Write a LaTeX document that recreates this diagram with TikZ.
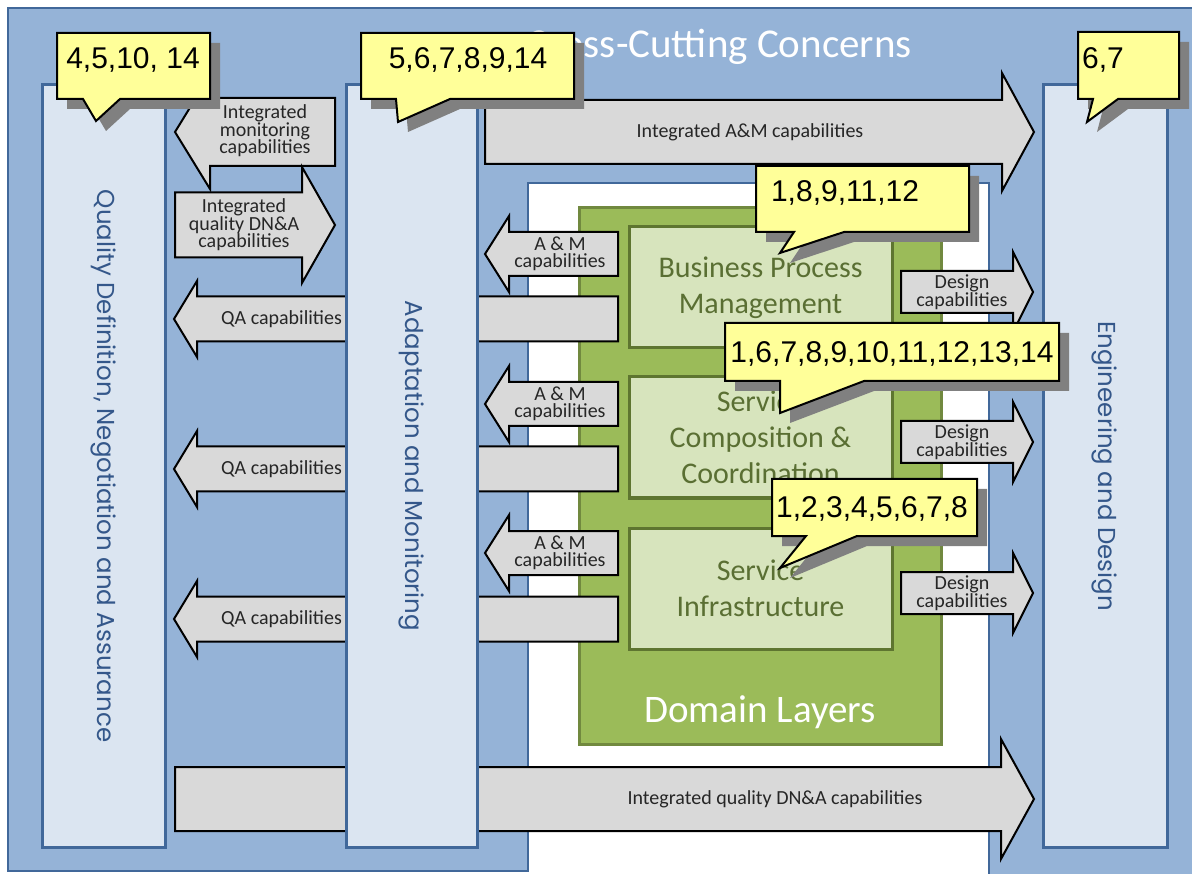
\documentclass[tikz,border=0pt]{standalone}
\usepackage{fontspec}
\setmainfont{Carlito}
\newfontfamily\calloutfont{Liberation Sans}
\newfontfamily\columnfont{Poppins}

\definecolor{ccBlue}{HTML}{95B3D7}
\definecolor{ccLine}{HTML}{41689A}
\definecolor{colFill}{HTML}{DBE5F1}
\definecolor{colText}{HTML}{34578A}
\definecolor{dlGreen}{HTML}{9BBB59}
\definecolor{dlLine}{HTML}{71893F}
\definecolor{layerFill}{HTML}{D7E4BD}
\definecolor{layerLine}{HTML}{5E7530}
\definecolor{layerText}{HTML}{5A6F33}
\definecolor{capFill}{HTML}{D9D9D9}
\definecolor{noteFill}{HTML}{FFFF99}
\definecolor{noteShadow}{HTML}{808080}

% left-pointing block arrow: tip x, head back x, tail x, centre y, body half height, head half height
\newcommand\BlockArrowLeft[6]{%
  \draw[capshape] (#1,#4) -- (#2,#4-#6) -- (#2,#4-#5) -- (#3,#4-#5) -- (#3,#4+#5)
    -- (#2,#4+#5) -- (#2,#4+#6) -- cycle;}
% right-pointing block arrow: tail x, head back x, tip x, centre y, body half height, head half height
\newcommand\BlockArrowRight[6]{%
  \draw[capshape] (#1,#4-#5) -- (#2,#4-#5) -- (#2,#4-#6) -- (#3,#4) -- (#2,#4+#6)
    -- (#2,#4+#5) -- (#1,#4+#5) -- cycle;}
% speech callout with drop shadow: x1, y1, x2, y2, pointer base left, pointer base right, tip x, tip y
\newcommand\NoteBubble[8]{%
  \fill[noteShadow, shift={(10,10)}] (#1,#2) -- (#3,#2) -- (#3,#4) -- (#6,#4) -- (#7,#8)
    -- (#5,#4) -- (#1,#4) -- cycle;
  \draw[notebox] (#1,#2) -- (#3,#2) -- (#3,#4) -- (#6,#4) -- (#7,#8)
    -- (#5,#4) -- (#1,#4) -- cycle;}

\tikzset{
  capshape/.style={fill=capFill, draw=black, line width=2pt, line join=miter},
  caplabel/.style={inner sep=0pt, align=center, text=black!85,
    font=\fontsize{20}{17.5}\selectfont},
  notebox/.style={fill=noteFill, draw=black, line width=2pt, line join=miter},
  notelabel/.style={inner sep=0pt, anchor=base, font=\calloutfont\fontsize{30}{30}\selectfont},
  column/.style={fill=colFill, draw=ccLine, line width=3pt, inner sep=0pt,
    text=colText, font=\columnfont\fontsize{24.5}{24.5}\selectfont},
  layerbox/.style={fill=layerFill, draw=layerLine, line width=3pt, inner sep=0pt,
    minimum width=263pt, minimum height=121pt, align=center, text=layerText,
    font=\fontsize{30}{36}\selectfont},
}

\begin{document}
\begin{tikzpicture}[x=1pt, y=-1pt]
\useasboundingbox (0,0) rectangle (1192,874);
\fill[white] (0,0) rectangle (1192,874);

% cross-cutting concerns band
\draw[fill=ccBlue, draw=ccLine, line width=2.5pt]
  (8,8) -- (1200,8) -- (1200,880) -- (989,880) -- (989,183) -- (528,183)
  -- (528,871) -- (8,871) -- cycle;

% domain layers
\node[fill=dlGreen, draw=dlLine, line width=3pt, minimum width=362pt,
  minimum height=536pt, inner sep=0pt] (domain) at (760,476) {};
\node[text=white, inner sep=0pt, anchor=base, font=\fontsize{39}{39}\selectfont]
  (domainlbl) at (760,722) {Domain Layers};
\node[layerbox] (bpm) at (760.5,287.5) {Business Process\\Management};
\node[layerbox] (scc) at (760.5,437.5) {Service\\Composition \&\\Coordination};
\node[layerbox] (si) at (760.5,588.5) {Service\\Infrastructure};

% arrows running behind the adaptation column
\BlockArrowLeft{174}{197}{618}{319}{22.5}{38}
\BlockArrowLeft{174}{197}{618}{469}{22.5}{38}
\BlockArrowLeft{174}{197}{618}{619}{22.5}{38}
\node[caplabel, anchor=west] (qa1) at (221,319) {QA capabilities};
\node[caplabel, anchor=west] (qa2) at (221,469) {QA capabilities};
\node[caplabel, anchor=west] (qa3) at (221,619) {QA capabilities};
\BlockArrowRight{175}{1001}{1034}{799}{32}{60}
\node[caplabel] (dnabottom) at (775,799) {Integrated quality DN\&A capabilities};

% vertical concern columns
\node[column, rotate=-90, minimum width=762pt, minimum height=123pt]
  (qdna) at (103.5,466) {Quality Definition, Negotiation and Assurance};
\node[column, rotate=-90, minimum width=762pt, minimum height=131pt]
  (am) at (411.5,466) {Adaptation and Monitoring};
\node[column, rotate=-90, minimum width=762pt, minimum height=124pt]
  (ed) at (1105,466) {Engineering and Design};

% capability arrows between columns
\BlockArrowLeft{175}{210}{335}{132}{34}{57}
\node[caplabel] (monitor) at (265,131) {Integrated\\monitoring\\capabilities};
\BlockArrowRight{175}{302}{335}{225}{32.5}{58}
\node[caplabel] (dnasmall) at (244,225) {Integrated\\quality DN\&A\\capabilities};
\BlockArrowRight{485}{1002}{1034}{132}{32}{59}
\node[caplabel] (amtop) at (750,132) {Integrated A\&M capabilities};

\BlockArrowLeft{485}{509}{618}{254}{22}{38}
\BlockArrowLeft{485}{509}{618}{404}{22}{38}
\BlockArrowLeft{485}{509}{618}{553}{22}{38}
\node[caplabel] (am1) at (560,254) {A \& M\\capabilities};
\node[caplabel] (am2) at (560,404) {A \& M\\capabilities};
\node[caplabel] (am3) at (560,553) {A \& M\\capabilities};

\BlockArrowRight{901}{1013}{1033}{292}{21}{40}
\BlockArrowRight{901}{1013}{1033}{442}{21}{40}
\BlockArrowRight{901}{1013}{1033}{593}{21}{40}
\node[caplabel] (design1) at (962,292) {Design\\capabilities};
\node[caplabel] (design2) at (962,442) {Design\\capabilities};
\node[caplabel] (design3) at (962,593) {Design\\capabilities};

% band title
\node[text=white, inner sep=0pt, anchor=base east, font=\fontsize{41}{41}\selectfont]
  (cctitle) at (912,58) {Cross-Cutting Concerns};

% scenario callouts
\NoteBubble{57}{33}{210}{99}{83}{120}{96}{121}
\node[notelabel] (n1) at (133,69) {4,5,10, 14};
\NoteBubble{361}{33}{574}{99}{396}{450}{398}{122}
\node[notelabel] (n2) at (468,69) {5,6,7,8,9,14};
\NoteBubble{1078}{32}{1179}{99}{1093}{1118}{1087}{122}
\node[notelabel, anchor=base west] (n3) at (1082,69) {6,7};
\NoteBubble{756}{166}{969}{232}{794}{844}{780}{253}
\node[notelabel] (n4) at (845,202) {1,8,9,11,12};
\NoteBubble{725}{323}{1059}{381}{780}{864}{780}{413}
\node[notelabel] (n5) at (892,363) {1,6,7,8,9,10,11,12,13,14};
\NoteBubble{772}{479}{977}{536}{806}{857}{780}{568}
\node[notelabel] (n6) at (872,518) {1,2,3,4,5,6,7,8};
\end{tikzpicture}
\end{document}
